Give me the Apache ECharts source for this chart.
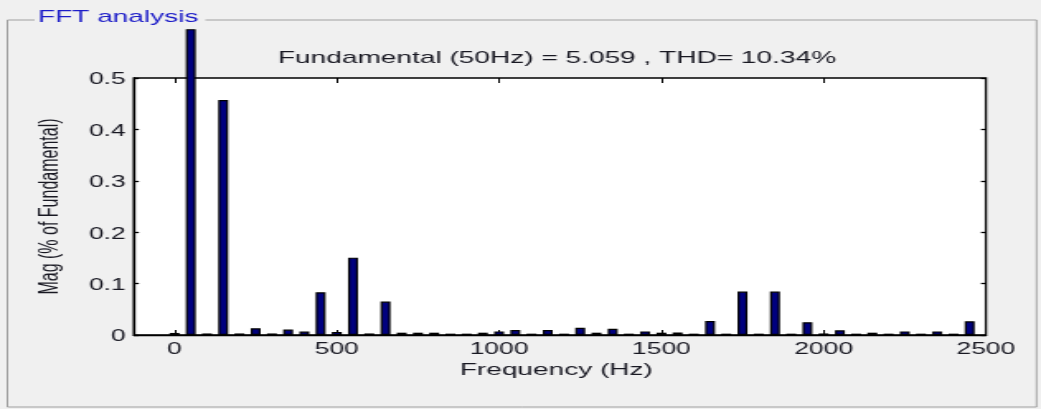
<!DOCTYPE html>
<html>
<head>
<meta charset="utf-8">
<script src="https://cdn.jsdelivr.net/npm/echarts@6/dist/echarts.min.js"></script>
<style>
html,body{margin:0;padding:0;background:#f0f0f0;overflow:hidden;}
#wrap{position:absolute;left:0;top:0;width:631px;height:409px;transform:scaleX(1.64976);transform-origin:0 0;}
#chart{width:631px;height:409px;}
</style>
</head>
<body>
<div id="wrap"><div id="chart"></div></div>
<script>
// ---- data ----
const freqs = [0,50,100,150,200,250,300,350,400,450,500,550,600,650,700,750,800,850,900,950,
  1000,1050,1100,1150,1200,1250,1300,1350,1400,1450,1500,1550,1600,1650,1700,1750,1800,1850,1900,1950,
  2000,2050,2100,2150,2200,2250,2300,2350,2400,2450];
const mags = [0.004,0.595,0.003,0.457,0.003,0.013,0.003,0.0105,0.0066,0.083,0.006,0.1505,0.003,0.065,0.0045,0.0045,0.0045,0.0026,0.0026,0.0045,
  0.007,0.0097,0.0026,0.0097,0.0026,0.014,0.0045,0.012,0.0026,0.007,0.0045,0.005,0.0026,0.027,0.0026,0.0844,0.0026,0.0844,0.0026,0.0247,
  0.003,0.009,0.0026,0.0045,0.0026,0.007,0.0026,0.007,0.0026,0.0266];
const xTicks = [0,500,1000,1500,2000,2500];
const yTickLabels = ['0','0.1','0.2','0.3','0.4','0.5'];
const panelTitle = 'FFT analysis';
const plotTitle = 'Fundamental (50Hz) = 5.059 , THD= 10.34%';
const xName = 'Frequency (Hz)';
const yName = 'Mag (% of Fundamental)';

const FONT = "'Liberation Sans', Arial, sans-serif";
const TXT = '#181822';
const chart = echarts.init(document.getElementById('chart'), null, {renderer:'canvas'});

const axisCommonY = {
  type:'value', min:0, max:0.5, interval:0.1,
  splitLine:{show:false}
};
const option = {
  animation:false,
  backgroundColor:'#f0f0f0',
  grid:{left:81.2, right:33.4, top:78, bottom:74, show:true, backgroundColor:'#ffffff', borderColor:'#000', borderWidth:1.3},
  xAxis:[
    {type:'value', min:-125, max:2500, position:'bottom',
     axisLine:{show:true, onZero:false, lineStyle:{color:'#000', width:1.3}},
     axisTick:{show:true, inside:true, length:5, customValues:xTicks, lineStyle:{color:'#000', width:1}},
     axisLabel:{show:true, customValues:xTicks, margin:7, fontSize:16, fontFamily:FONT, color:TXT,
       formatter:function(v){ return String(v); }},
     splitLine:{show:false}},
    {type:'value', min:-125, max:2500, position:'top',
     axisLine:{show:false, onZero:false},
     axisTick:{show:true, inside:true, length:5, customValues:xTicks, lineStyle:{color:'#000', width:1}},
     axisLabel:{show:false, customValues:xTicks},
     splitLine:{show:false}}
  ],
  yAxis:[
    Object.assign({}, axisCommonY, {position:'left',
      axisLine:{show:true, onZero:false, lineStyle:{color:'#000', width:1.3}},
      axisTick:{show:true, inside:true, length:3, lineStyle:{color:'#000', width:1.3}},
      axisLabel:{show:true, margin:5, fontSize:16, fontFamily:FONT, color:TXT,
        verticalAlign:'top', lineHeight:4,
        formatter:function(v){ return yTickLabels[Math.round(v*10)]; }}}),
    Object.assign({}, axisCommonY, {position:'right',
      axisLine:{show:false, onZero:false},
      axisTick:{show:true, inside:true, length:3, lineStyle:{color:'#000', width:1.3}},
      axisLabel:{show:false}})
  ],
  series:[{
    type:'bar', xAxisIndex:0, yAxisIndex:0, clip:false, barWidth:6,
    data: freqs.map((f,i)=>[f, mags[i]]),
    itemStyle:{color:'#00007f', borderColor:'#000', borderWidth:1.2}
  }],
  graphic:[
    {type:'polyline', silent:true, z:-1,
     shape:{points:[[21,20],[4.5,20],[4.5,407],[628.3,407],[628.3,20],[124.5,20]]},
     style:{stroke:'#a0a0a0', lineWidth:1, fill:null}},
    {type:'text', x:23, y:17.5, silent:true,
     style:{text:panelTitle, fill:'#1c1cc8', font:'17px ' + FONT, textAlign:'left', textVerticalAlign:'middle'}},
    {type:'text', x:337.6, y:58.5, silent:true,
     style:{text:plotTitle, fill:TXT, font:'17px ' + FONT, textAlign:'center', textVerticalAlign:'middle'}},
    {type:'text', x:337.2, y:370, silent:true,
     style:{text:xName, fill:TXT, font:'17px ' + FONT, textAlign:'center', textVerticalAlign:'middle'}},
    {type:'text', x:31, y:206.5, rotation:Math.PI/2, silent:true,
     style:{text:yName, fill:TXT, font:'16px ' + FONT, textAlign:'center', textVerticalAlign:'middle'}}
  ]
};
chart.setOption(option);
</script>
</body>
</html>
